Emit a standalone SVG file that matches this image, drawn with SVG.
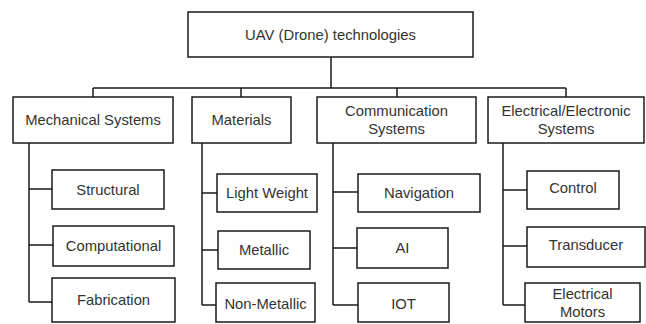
<svg xmlns="http://www.w3.org/2000/svg" width="646" height="324" viewBox="0 0 646 324">
<style>
rect{fill:#fff;stroke:#1a1a1a;stroke-width:1.5}
text{font-family:"Liberation Sans",Arial,sans-serif;font-size:14.8px;fill:#333;text-anchor:middle;dominant-baseline:central}
.c path{fill:none;stroke:#1a1a1a;stroke-width:1.5}
</style>
<rect x="0" y="0" width="646" height="324" style="stroke:none"/>
<g class="c" id="connectors">
<path d="M331 57V88M93 88H566M93 88V97M241 88V97M397 88V97M566 88V97"/>
<path d="M29 143V302M29 189H52M29 245H53M29 302H52"/>
<path d="M202 143V305M202 193H217M202 250H218M202 305H216"/>
<path d="M333 143V305M333 192H358M333 248H357M333 305H358"/>
<path d="M503 143V305M503 190H527M503 246H527M503 305H525"/>
</g>
<g id="root"><rect x="188" y="12" width="285" height="45"/><text x="330.5" y="34.5">UAV (Drone) technologies</text></g>
<g id="mech"><rect x="13" y="97" width="160" height="46"/><text x="93" y="120">Mechanical Systems</text></g>
<g id="materials"><rect x="192" y="97" width="99" height="46"/><text x="241.5" y="120">Materials</text></g>
<g id="comm"><rect x="317" y="97" width="159" height="46"/><text x="396.5" y="111">Communication</text><text x="396.5" y="129">Systems</text></g>
<g id="elec"><rect x="488" y="97" width="156" height="46"/><text x="566" y="111">Electrical/Electronic</text><text x="566" y="129">Systems</text></g>
<g id="structural"><rect x="52" y="170" width="112" height="39"/><text x="108" y="189.5">Structural</text></g>
<g id="computational"><rect x="53" y="226" width="121" height="40"/><text x="113.5" y="246">Computational</text></g>
<g id="fabrication"><rect x="52" y="278" width="123" height="44"/><text x="113.5" y="300">Fabrication</text></g>
<g id="lightweight"><rect x="217" y="174" width="100" height="38"/><text x="267" y="193">Light Weight</text></g>
<g id="metallic"><rect x="218" y="231" width="92" height="38"/><text x="264" y="250">Metallic</text></g>
<g id="nonmetallic"><rect x="216" y="283" width="99" height="39"/><text x="265.5" y="304">Non-Metallic</text></g>
<g id="navigation"><rect x="358" y="174" width="122" height="38"/><text x="419" y="193">Navigation</text></g>
<g id="ai"><rect x="357" y="228" width="91" height="40"/><text x="402.5" y="248">AI</text></g>
<g id="iot"><rect x="358" y="283" width="91" height="39"/><text x="403.5" y="304">IOT</text></g>
<g id="control"><rect x="527" y="171" width="92" height="38"/><text x="573" y="188">Control</text></g>
<g id="transducer"><rect x="527" y="227" width="118" height="40"/><text x="586" y="245">Transducer</text></g>
<g id="motors"><rect x="525" y="283" width="115" height="39"/><text x="582.5" y="294">Electrical</text><text x="582.5" y="312">Motors</text></g>
</svg>
